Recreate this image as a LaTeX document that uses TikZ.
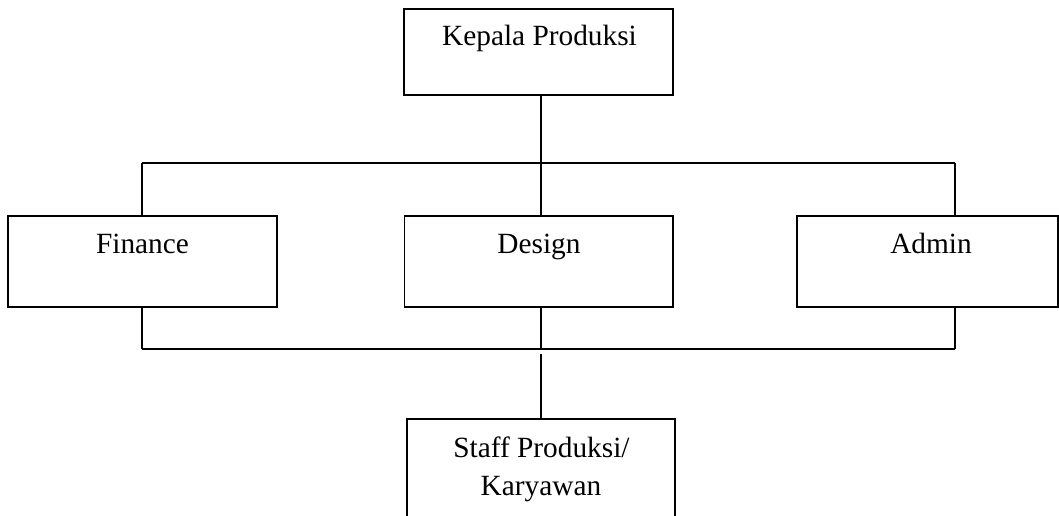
\documentclass[tikz,border=0pt]{standalone}
\usepackage{fontspec}
\setmainfont{Liberation Serif}
\begin{document}
\begin{tikzpicture}[x=0.75pt,y=-0.75pt,
  box/.style={draw,line width=0.9pt,rectangle,inner sep=0pt},
  lbl/.style={anchor=base,inner sep=0pt,font=\fontsize{22}{28.5}\selectfont,align=center},
  wire/.style={line width=0.9pt}]
\useasboundingbox (0,0) rectangle (1059,516);
\clip (0,0) rectangle (1059,516);
% boxes
\node[box,minimum width=201.75pt,minimum height=64.5pt] (kepala) at (538.5,52) {};
\node[box,minimum width=201.75pt,minimum height=68.25pt] (finance) at (142.5,261.5) {};
\node[box,minimum width=201.4pt,minimum height=68.25pt] (design) at (538.75,261.5) {};
\node[box,minimum width=195.75pt,minimum height=68.25pt] (admin) at (927.5,261.5) {};
\node[box,minimum width=201pt,minimum height=94.5pt] (staff) at (541,482) {};
% labels
\node[lbl] (tkepala) at (539.5,46) {Kepala Produksi};
\node[lbl] (tfinance) at (142.5,254) {Finance};
\node[lbl] (tdesign) at (539,254) {Design};
\node[lbl] (tadmin) at (931,254) {Admin};
\node[lbl] (tstaff1) at (541.5,457) {Staff Produksi/};
\node[lbl] (tstaff2) at (541,495) {Karyawan};
% connector points
\coordinate (tl) at (142,163);
\coordinate (tm) at (541,163);
\coordinate (tr) at (955,163);
\coordinate (bl) at (142,349);
\coordinate (bm) at (541,349);
\coordinate (br) at (955,349);
\coordinate (gap) at (541,354);
% connectors
\draw[wire] (kepala.south -| tm) -- (tm);
\draw[wire] (tl) -- (tr);
\draw[wire] (tl) -- (tl |- finance.north);
\draw[wire] (tm) -- (tm |- design.north);
\draw[wire] (tr) -- (tr |- admin.north);
\draw[wire] (bl |- finance.south) -- (bl);
\draw[wire] (bm |- design.south) -- (bm);
\draw[wire] (br |- admin.south) -- (br);
\draw[wire] (bl) -- (br);
\draw[wire] (gap) -- (gap |- staff.north);
\end{tikzpicture}
\end{document}
